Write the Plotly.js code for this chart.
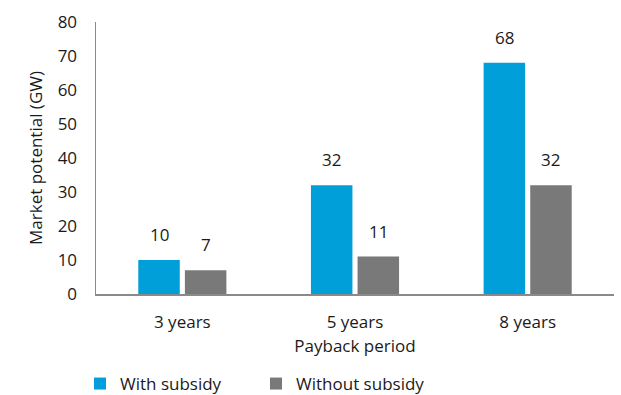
<!DOCTYPE html>
<html>
<head>
<meta charset="utf-8">
<script src="https://cdn.plot.ly/plotly-3.0.1.min.js"></script>
<style>html,body{margin:0;padding:0;background:#fff;}#chart{width:621px;height:395px;}</style>
</head>
<body>
<div id="chart"></div>
<script>
const categories = ["3 years", "5 years", "8 years"];
const withSubsidy = [10, 32, 68];
const withoutSubsidy = [7, 11, 32];
const yTicks = [0, 10, 20, 30, 40, 50, 60, 70, 80];

const font = "Open Sans, Noto Sans, sans-serif";
const traces = [
  {type: "bar", name: "With subsidy", x: categories, y: withSubsidy,
   marker: {color: "#009FDA"}, hoverinfo: "skip"},
  {type: "bar", name: "Without subsidy", x: categories, y: withoutSubsidy,
   marker: {color: "#797979"}, hoverinfo: "skip"}
];
const plotW = 621 - 96 - 7;
const bargap = 0.46;
const off = plotW / categories.length * (1 - bargap) / 4;
const annotations = [];
[withSubsidy, withoutSubsidy].forEach((series, si) => {
  series.forEach((v, i) => {
    annotations.push({x: categories[i], y: v, xref: "x", yref: "y", text: String(v),
      showarrow: false, xshift: si === 0 ? -off : off, yshift: 12, yanchor: "bottom",
      font: {size: 17, color: "#1a1a1a", family: font}});
  });
});
const layout = {
  width: 621, height: 395,
  margin: {l: 96, r: 7, t: 22, b: 101},
  paper_bgcolor: "#fff", plot_bgcolor: "#fff",
  font: {family: font, size: 17, color: "#1a1a1a"},
  barmode: "group", bargap: bargap, bargroupgap: 0.11,
  showlegend: true,
  annotations: annotations,
  legend: {orientation: "h", x: 80 / 621, xref: "container", xanchor: "left",
           y: 11 / 395, yref: "container", yanchor: "middle",
           font: {size: 17}, traceorder: "normal", entrywidth: 131, itemwidth: 30},
  xaxis: {showline: true, linecolor: "#8a8a8a", linewidth: 1.5, ticks: "", showgrid: false, automargin: false,
          tickfont: {size: 17}, ticklabelstandoff: 12,
          title: {text: "Payback period", font: {size: 17}, standoff: 8}},
  yaxis: {range: [0, 80], tickvals: yTicks, ticktext: yTicks.map(String), showline: true, automargin: false,
          linecolor: "#8a8a8a", linewidth: 1.5, ticks: "", showgrid: false, zeroline: false,
          tickfont: {size: 17}, ticklabelstandoff: 14,
          title: {text: "Market potential (GW)", font: {size: 17}, standoff: 10}}
};
Plotly.newPlot("chart", traces, layout, {displayModeBar: false, staticPlot: true});
</script>
</body>
</html>
